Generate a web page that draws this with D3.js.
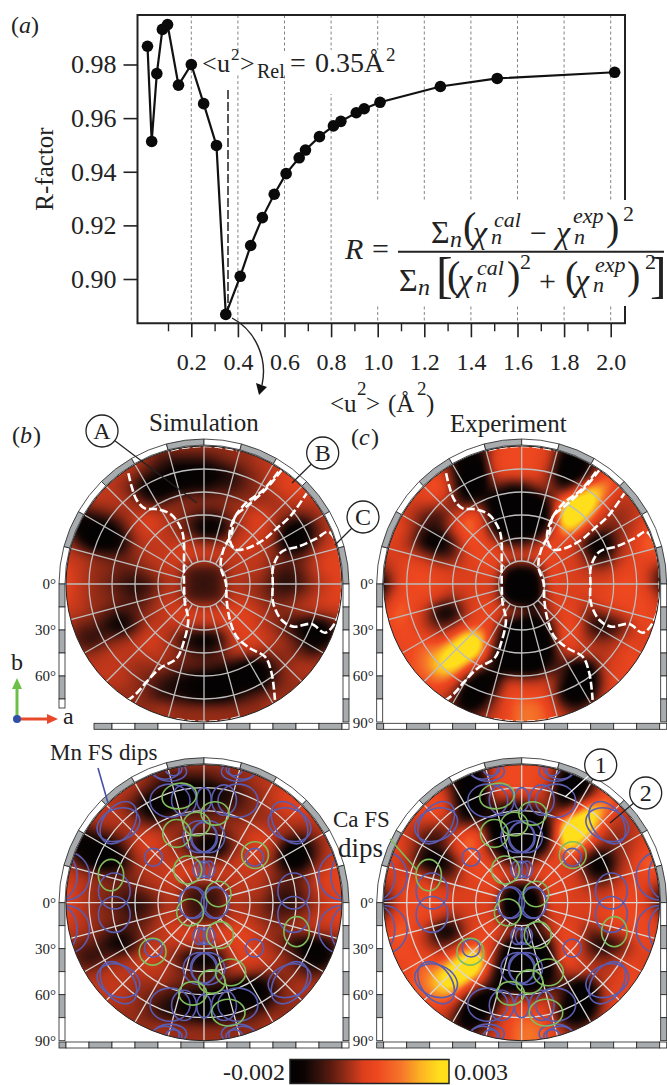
<!DOCTYPE html>
<html>
<head>
<meta charset="utf-8">
<script src="https://cdnjs.cloudflare.com/ajax/libs/d3/7.8.5/d3.min.js"></script>
<style>
body { margin: 0; background: #fff; }
svg { display: block; }
text { font-family: "Liberation Serif", serif; fill: #222; }
</style>
</head>
<body>
<script>
// R-factor curve
const u2Values = [0.012,0.03,0.052,0.076,0.098,0.145,0.2,0.253,0.308,0.348,0.41,0.455,0.505,0.556,0.607,0.663,0.69,0.75,0.81,0.842,0.908,0.942,1.01,1.269,1.513,2.017];
const rValues = [0.9868,0.9513,0.9766,0.9931,0.9949,0.9723,0.98,0.9654,0.9498,0.8868,0.901,0.9125,0.9229,0.9316,0.9393,0.9452,0.9481,0.9531,0.9571,0.9588,0.962,0.9635,0.9659,0.9718,0.9748,0.9771];
const yTicks = [0.90,0.92,0.94,0.96,0.98];
const xMajor = [0.2,0.4,0.6,0.8,1.0,1.2,1.4,1.6,1.8,2.0];
const xMinor = [0.1,0.3,0.5,0.7,0.9,1.1,1.3,1.5,1.7,1.9];

// Colour levels, rows top to bottom, 21 x 21 over the disc
const simLevels = [
[5,5,5,5,5,5,5,5,5,5,5,5,5,5,5,5,5,5,5,5,5],
[6,6,6,6,6,6,5,3,3,3,3,4,5,5,6,6,6,6,6,6,6],
[6,6,6,6,6,5,3,2,0,0,0,1,2,4,5,6,7,7,7,7,7],
[6,6,6,6,5,3,0,0,1,2,2,3,3,4,5,6,7,7,7,7,7],
[5,5,6,6,6,5,3,3,5,5,5,5,5,5,5,5,6,6,6,6,6],
[2,2,3,4,5,6,7,6,5,4,3,3,5,6,7,6,5,4,5,6,6],
[5,0,0,0,3,6,7,6,5,3,0,0,4,6,7,6,1,0,3,6,6],
[6,3,0,0,1,5,6,6,6,6,5,5,6,7,6,5,0,0,4,6,7],
[6,6,5,4,4,5,6,6,7,7,7,7,6,6,6,5,4,4,6,7,7],
[7,6,5,5,4,4,5,6,6,3,3,3,6,6,6,4,3,4,6,7,7],
[7,6,5,4,3,2,3,5,6,3,3,3,6,5,5,3,2,3,5,6,7],
[7,6,5,5,4,3,4,6,6,3,3,3,6,6,5,4,4,5,6,7,7],
[6,6,5,4,3,4,5,6,7,7,7,7,7,7,6,5,5,6,6,6,6],
[6,4,4,2,0,3,6,6,6,6,6,6,7,7,6,5,3,1,0,2,5],
[5,3,2,4,5,6,7,6,4,1,0,1,6,7,7,6,5,3,0,1,5],
[5,5,5,6,6,6,6,6,5,4,3,4,6,6,5,5,5,4,3,5,5],
[6,6,6,6,6,5,5,5,4,4,4,3,2,0,0,3,5,6,6,6,6],
[6,6,6,6,6,5,4,3,2,1,0,0,0,0,0,3,5,5,5,5,5],
[5,5,5,5,5,5,4,2,2,1,0,0,1,3,4,5,5,5,5,5,5],
[5,5,5,5,5,5,5,6,5,5,5,5,5,5,5,6,5,5,5,5,5],
[5,5,5,5,5,5,5,5,5,5,5,5,5,5,5,5,5,5,5,5,5]
];
const expLevels = [
[5,5,5,5,5,5,2,2,6,7,7,7,6,2,2,5,5,5,5,5,5],
[5,5,5,5,5,2,-1,0,7,7,7,7,6,0,-1,2,6,6,6,6,6],
[5,5,5,6,7,3,-1,-1,6,7,7,7,4,-1,-1,2,7,7,6,6,6],
[6,6,6,7,8,4,-1,-1,4,1,1,4,5,1,5,10,9,6,6,6,6],
[6,6,6,6,6,4,1,3,-1,-1,-1,-1,2,9,12,12,7,5,5,6,6],
[6,6,5,3,2,5,8,7,0,-1,-1,-1,1,12,12,9,5,4,5,6,6],
[6,7,5,2,2,6,8,7,1,-1,-1,-1,3,10,9,5,3,4,5,7,6],
[6,6,4,0,-1,2,7,7,6,2,2,4,7,6,5,0,-1,4,6,8,7],
[6,6,6,5,3,3,6,7,7,7,7,7,7,6,6,2,1,5,6,7,7],
[4,6,7,7,6,6,6,6,7,1,0,1,7,6,6,5,5,6,7,6,3],
[1,6,7,7,7,6,6,6,6,-1,-1,-1,7,6,6,6,6,7,7,6,2],
[4,7,7,7,6,4,6,6,6,0,-1,0,6,6,6,6,7,7,7,7,5],
[6,8,7,5,0,0,5,7,7,6,5,2,5,7,6,3,5,6,7,7,6],
[7,7,7,5,3,4,6,7,6,0,-1,-1,2,7,7,2,0,2,5,7,6],
[6,7,7,7,6,8,12,11,4,-1,-1,-1,0,8,6,4,4,5,6,6,5],
[6,6,7,8,9,12,12,10,2,-1,-1,-1,0,5,6,6,5,6,7,6,5],
[7,7,7,8,10,11,8,4,1,-1,-1,-1,2,3,-1,0,6,6,7,7,7],
[7,7,7,7,8,7,2,-1,0,6,5,5,6,2,-1,-1,5,7,6,6,6],
[6,6,6,6,6,4,-1,-1,3,7,7,7,6,0,-1,0,6,6,6,6,6],
[6,6,6,6,6,3,0,2,5,7,8,8,7,4,2,5,6,6,6,6,6],
[6,6,6,6,6,6,5,5,6,7,8,8,7,6,5,6,6,6,6,6,6]
];
const levelDomain = [0,1,2,3,4,5,6,7,8,9,10];
const levelColors = ["#040202","#0c0403","#2a0f0a","#561a10","#862815","#b5341a","#dc3f1c","#ee4820","#f5762a","#fcb222","#ffdf1c"];
const barStops = [0.03,0.09,0.16,0.25,0.33,0.4,0.46,0.55,0.7,0.82,0.94];

// White dashed contours, in percent of the disc radius, y upwards
const contourA = [[-54.8,80.2],[-52.4,70.5],[-48.8,60.9],[-42.8,54.8],[-33.1,54.1],[-23.4,50],[-16.2,39.1],[-14.5,29.5],[-14.5,17.4],[-14.5,0.5],[-13.8,-14],[-11.4,-26],[-15,-43],[-19.8,-53.9],[-31.9,-61],[-41.5,-70.8],[-48.8,-79.2],[-54.8,-84]];
const contourB = [[56.3,82.6],[45.4,69.3],[32.1,57.2],[22.5,48.8],[20,36.7],[14,24.6],[12.1,12.6],[15.9,0.5],[16.4,-11.6],[18.8,-26.1],[23.7,-38.2],[33.3,-46.6],[44.2,-52.7],[49,-64.7],[51.4,-84]];
const contourB2 = [[53.9,81.4],[43,68.1],[29.7,58],[21.3,46.4],[18.4,33.1],[22.5,25.1],[30.9,25.8],[43,31.9],[52.7,40.3],[62.3,48.8],[74.4,65.7]];
const contourC = [[100,10.1],[96.1,29.5],[90.1,37.9],[81.6,33.1],[69.6,27.5],[56.3,23.4],[50.2,12.6],[49.8,0.5],[50.2,-14],[56.3,-26.1],[64.7,-30.9],[78,-29],[87.7,-35.3],[96.1,-26.1],[99.8,-9.2],[100,10.1]];
const contourTop = [[-24,97],[-12,99.2],[0,100],[12,99.2],[24,97]];
const contourBottom = [[-20,-98],[-8,-99.6],[4,-99.9],[16,-98.7],[26,-96.5]];
const contours = [contourA,contourB,contourB2,contourC,contourTop,contourBottom];

// Fermi surface dips: x, y, rx, ry, rotation. Mn set is one quadrant, mirrored below
const mnDips = [[-8.9,0,9,11,0],[-8,0,10,11.5,0],[-3.6,24.2,4.1,6,0],[0,24.2,4.5,6,0],[-36.7,32.9,6.5,6.5,0],[-62,58,17,11,-55],[-62,56.5,16,11.5,-22],[-100,19.5,17,17.5,0],[-105,19.5,13,17.5,0],[-65,8.5,11.5,13,0],[-24.6,73.9,14.5,12,0],[-14.5,74.4,9,11,0],[0,74.9,5.3,8.5,0],[-3,47.8,12,11.6,0],[0,47.3,9.7,10.9,0],[-24.6,95,12,7,0],[-28,96,10,6.5,0],[-22,97,6,5,0]];
const caDips = [[-17.9,77.3,12.6,9.2,-10],[8,64.7,10.1,8.5,0],[-5.3,57,9.7,8.5,0],[-19.8,50.2,10.1,10.1,0],[-11.8,23.7,10.1,10.1,0],[37,34.5,9.7,9.7,0],[-67.4,20,9.2,11.4,0],[10.4,6.3,9.2,9.2,0],[-10.1,-7,9.7,9.7,0],[11.6,-23.4,9.7,9.7,0],[67.1,-21,9.2,10.9,0],[-37.2,-35.5,9.7,9.7,0],[19.3,-50.5,10.9,9.7,0],[5.6,-57.2,9.7,8.5,0],[-8.2,-65.7,10.1,8.5,0],[17.6,-79.7,12.1,9.7,0]];

const gammaLabels = ["0°","30°","60°","90°"];
const gridRadii = [23,46,69,92,115];
const azimuths = d3.range(0,360,15);

const svg = d3.select("body").append("svg").attr("width",667).attr("height",1085);
const defs = svg.append("defs");

function label(x,y,str,size,opts){
	opts = opts || {};
	return svg.append("text").attr("x",x).attr("y",y).attr("font-size",size)
		.attr("font-style",opts.italic ? "italic" : null)
		.attr("text-anchor",opts.anchor || null)
		.text(str);
}

//------------ panel (a) -----------
const x = d3.scaleLinear().domain([0,2]).range([144.7,610.7]);
const y = d3.scaleLinear().domain([0.9,0.98]).range([279,64.5]);

// dotted grid, cut by the white boxes below
svg.append("g").selectAll("line").data(xMajor).enter().append("line")
	.attr("x1",d => x(d)).attr("x2",d => x(d)).attr("y1",15).attr("y2",323)
	.attr("stroke","#666").attr("stroke-width",0.8).attr("stroke-dasharray","3,2.5");

// frame
svg.append("path").attr("d","M625,200V15H137.5V323.3H625V306").attr("fill","none").attr("stroke","#222").attr("stroke-width",2);

// white behind the annotation and the formula
svg.append("rect").attr("x",200).attr("y",52).attr("width",195).attr("height",22).attr("fill","#fff");
svg.append("rect").attr("x",296).attr("y",50).attr("width",100).attr("height",44).attr("fill","#fff");
svg.append("rect").attr("x",345).attr("y",200).attr("width",322).attr("height",106).attr("fill","#fff");

// axes
const axisBig = d3.axisBottom(x).tickValues(xMajor).tickSize(14).tickPadding(6).tickFormat(d3.format(".1f"));
const gx = svg.append("g").attr("transform","translate(0,323.3)").call(axisBig);
gx.select(".domain").remove();
gx.selectAll("line").attr("stroke","#222").attr("stroke-width",1.6);
gx.selectAll("text").attr("font-size",24).attr("font-family","Liberation Serif").attr("fill","#222").attr("y",47).attr("dy",0);
const gx2 = svg.append("g").attr("transform","translate(0,323.3)").call(d3.axisBottom(x).tickValues(xMinor).tickSize(8).tickFormat(""));
gx2.select(".domain").remove();
gx2.selectAll("line").attr("stroke","#222").attr("stroke-width",1.4);

const gy = svg.append("g").attr("transform","translate(137.5,0)")
	.call(d3.axisLeft(y).tickValues(yTicks).tickSize(14).tickPadding(7).tickFormat(d3.format(".2f")));
gy.select(".domain").remove();
gy.selectAll("line").attr("stroke","#222").attr("stroke-width",1.6);
gy.selectAll("text").attr("font-size",26).attr("font-family","Liberation Serif").attr("fill","#222");

svg.append("text").attr("transform","translate(53,169) rotate(-90)").attr("text-anchor","middle").attr("font-size",25).text("R-factor");

// dashed marker at the relative displacement
svg.append("line").attr("x1",228).attr("x2",228).attr("y1",90).attr("y2",318)
	.attr("stroke","#111").attr("stroke-width",1.4).attr("stroke-dasharray","9,3");

const pts = u2Values.map((d,i) => [d,rValues[i]]);
svg.append("path").attr("d",d3.line().x(d => x(d[0])).y(d => y(d[1]))(pts))
	.attr("fill","none").attr("stroke","#111").attr("stroke-width",2.2);
svg.append("g").selectAll("circle").data(pts).enter().append("circle")
	.attr("cx",d => x(d[0])).attr("cy",d => y(d[1])).attr("r",5.8).attr("fill","#0a0a0a");

label(202,72,"<",26); label(217,72,"u",26); label(231,60,"2",17); label(240,72,">",26);
label(257,78,"Rel",20);
label(290,72,"=",28); label(315,72,"0.35Å",28); label(386,61,"2",19);
label(11,33,"(",24); label(19,33,"a",24,{italic:true}); label(31,33,")",24);

label(330,412,"<u",25); label(357,395,"2",19); label(366,412,">",25);
label(388,412,"(Å",25); label(417,395,"2",19); label(426,412,")",25);

// arrow down to the maps
svg.append("path").attr("d","M232,318C255,330 268,358 262,385").attr("fill","none").attr("stroke","#222").attr("stroke-width",1.4);
svg.append("path").attr("d","M256,383L267,387L259,395Z").attr("fill","#111");

// formula
label(345,259,"R",30,{italic:true}); label(372,259,"=",30);
svg.append("line").attr("x1",398).attr("x2",664).attr("y1",251.7).attr("y2",251.7).attr("stroke","#222").attr("stroke-width",2);
const chi = (cx,cy,sup,supx,supy) => {
	label(cx,cy,"χ",32,{italic:true});
	label(supx,supy,sup,22,{italic:true});
	label(cx+18,cy+1,"n",22,{italic:true});
};
label(431,243,"Σ",32); label(450,247,"n",24,{italic:true});
label(463,240,"(",40); chi(473,243,"cal",494,227); label(530,243,"−",30); chi(556,243,"exp",573,223);
label(606,240,")",40); label(623,221,"2",22);
label(399,291,"Σ",32); label(418,295,"n",24,{italic:true});
label(436,292,"[",50); label(447,289,"(",40); chi(458,291,"cal",477,275); label(507,289,")",40); label(520,269,"2",22);
label(539,291,"+",30); label(565,289,"(",40); chi(575,291,"exp",595,272); label(627,289,")",40); label(645,269,"2",22);
label(650,292,"]",50);

//------------ maps -----------
const R = 138;
const levelColor = d3.scaleLinear().domain(levelDomain).range(levelColors).clamp(true);

// smooth the level grid to an image through spline interpolation
function heatImage(levels,shift){
	const size = 2*R, n = levels[0].length;
	const cols = d3.range(n).map(i => d3.interpolateBasis(levels.map(r => r[i])));
	const cv = document.createElement("canvas");
	cv.width = size; cv.height = size;
	const ctx = cv.getContext("2d");
	const img = ctx.createImageData(size,size);
	for(let py=0; py<size; py++){
		const rowFn = d3.interpolateBasis(cols.map(f => f((py+0.5)/size)));
		for(let px=0; px<size; px++){
			const c = d3.rgb(levelColor(rowFn((px+0.5)/size)+shift));
			const k = 4*(py*size+px);
			img.data[k]=c.r; img.data[k+1]=c.g; img.data[k+2]=c.b; img.data[k+3]=255;
		}
	}
	ctx.putImageData(img,0,0);
	return cv.toDataURL();
}
const simImage = heatImage(simLevels,-0.7), expImage = heatImage(expLevels,0);

// four-fold copy of the Mn quadrant, without stacking copies that land on themselves
const mirrored = Array.from(d3.group(
	mnDips.flatMap(d => [[1,1],[-1,1],[1,-1],[-1,-1]].map(s => [d[0]*s[0],d[1]*s[1],d[2],d[3],d[4]*s[0]*s[1]]))
	, d => d.join(",")).values(), v => v[0]);

const panels = [
	{id:"mapB", cx:204, cy:584, image:simImage, lines:true, labels:gammaLabels.slice(0,3), leftEnd:708, bottomStart:94},
	{id:"mapC", cx:521.7, cy:584, image:expImage, lines:true, labels:gammaLabels, leftEnd:723, bottomStart:376.7},
	{id:"mapD", cx:204, cy:902.7, image:simImage, lines:false, labels:gammaLabels, leftEnd:1042, bottomStart:59},
	{id:"mapE", cx:521.7, cy:902.7, image:expImage, lines:false, labels:gammaLabels, leftEnd:1042, bottomStart:376.7}
];
const arc = d3.arc().innerRadius(139).outerRadius(145);
const blockFill = i => i%2===0 ? "#fff" : "#a8acae";

panels.forEach(p => {
	const mx = d3.scaleLinear().domain([-100,100]).range([p.cx-R,p.cx+R]);
	const my = d3.scaleLinear().domain([100,-100]).range([p.cy-R,p.cy+R]);
	const mr = d3.scaleLinear().domain([0,100]).range([0,R]);

	defs.append("clipPath").attr("id",p.id).append("circle").attr("cx",p.cx).attr("cy",p.cy).attr("r",R);
	const g = svg.append("g").attr("clip-path","url(#"+p.id+")");
	g.append("image").attr("x",p.cx-R).attr("y",p.cy-R).attr("width",2*R).attr("height",2*R).attr("href",p.image);

	// polar net
	const gridCol = p.lines ? "#bdbdbd" : "#d8d8d8";
	g.selectAll("circle.net").data(gridRadii).enter().append("circle").attr("class","net")
		.attr("cx",p.cx).attr("cy",p.cy).attr("r",d => d).attr("fill","none").attr("stroke",gridCol).attr("stroke-width",1.3);
	g.selectAll("line.net").data(azimuths).enter().append("line").attr("class","net")
		.attr("x1",d => p.cx+23*Math.cos(d*Math.PI/180)).attr("y1",d => p.cy+23*Math.sin(d*Math.PI/180))
		.attr("x2",d => p.cx+R*Math.cos(d*Math.PI/180)).attr("y2",d => p.cy+R*Math.sin(d*Math.PI/180))
		.attr("stroke",gridCol).attr("stroke-width",1.3);

	if(p.lines){
		const line = d3.line().x(d => mx(d[0])).y(d => my(d[1])).curve(d3.curveCatmullRom);
		g.selectAll("path.contour").data(contours).enter().append("path").attr("class","contour")
			.attr("d",line).attr("fill","none").attr("stroke","#fff").attr("stroke-width",2.6).attr("stroke-dasharray","8,3");
	} else {
		const ell = (sel,data,col) => sel.append("g").selectAll("ellipse").data(data).enter().append("ellipse")
			.attr("rx",d => mr(d[2])).attr("ry",d => mr(d[3]))
			.attr("transform",d => "translate("+mx(d[0])+","+my(d[1])+") rotate("+d[4]+")")
			.attr("fill","none").attr("stroke",col).attr("stroke-width",1.6);
		ell(g,mirrored,"#5a5cb0");
		ell(g,caDips,"#7fbd5c");
	}
	svg.append("circle").attr("cx",p.cx).attr("cy",p.cy).attr("r",R).attr("fill","none").attr("stroke","#222").attr("stroke-width",1);

	// scale blocks: arc over the top, strips down the sides, bar at the bottom
	const top = svg.append("g").attr("transform","translate("+p.cx+","+p.cy+")");
	top.selectAll("path").data(d3.range(-6,6)).enter().append("path")
		.attr("d",d => arc({startAngle:d*Math.PI/12,endAngle:(d+1)*Math.PI/12}))
		.attr("fill",d => blockFill(Math.abs(d))).attr("stroke","#222").attr("stroke-width",0.8);

	const strip = (x0,parity,end) => svg.append("g").selectAll("rect").data(d3.range(6).filter(d => p.cy+d*23 < end)).enter().append("rect")
		.attr("x",x0).attr("width",6).attr("y",d => p.cy+d*23)
		.attr("height",d => Math.min(23,end-(p.cy+d*23)))
		.attr("fill",d => blockFill(d+parity)).attr("stroke","#222").attr("stroke-width",0.8);
	strip(p.cx-145,1,p.leftEnd);
	strip(p.cx+139,0,p.cy+139);

	const right = p.cx+145;
	svg.append("g").selectAll("rect").data(d3.range(-7,7).filter(d => p.cx+(d+1)*23 > p.bottomStart)).enter().append("rect")
		.attr("x",d => Math.max(p.cx+d*23,p.bottomStart))
		.attr("width",d => Math.min(p.cx+(d+1)*23,right)-Math.max(p.cx+d*23,p.bottomStart))
		.attr("y",p.cy+139.3).attr("height",6)
		.attr("fill",d => blockFill(Math.abs(d))).attr("stroke","#222").attr("stroke-width",0.8);

	p.labels.forEach((t,i) => label(p.cx-148,p.cy+i*46.2+5,t,15,{anchor:"end"}));
});

// titles and panel tags
label(149,431,"Simulation",25);
label(450,432,"Experiment",25);
label(12,443,"(",24); label(20,443,"b",24,{italic:true}); label(33,443,")",24);
label(351,445,"(",24); label(359,445,"c",24,{italic:true}); label(371,445,")",24);

// callouts
const callouts = [
	{t:"A",x:102,y:431,x2:197,y2:503,col:"#222"},
	{t:"B",x:322.7,y:453,x2:292,y2:483,col:"#222"},
	{t:"C",x:363,y:517,x2:335,y2:545,col:"#222"},
	{t:"1",x:600.7,y:765,x2:565,y2:797,col:"#fff"},
	{t:"2",x:645.7,y:793,x2:610,y2:823,col:"#222"}
];
callouts.forEach(c => {
	svg.append("line").attr("x1",c.x).attr("y1",c.y).attr("x2",c.x2).attr("y2",c.y2).attr("stroke",c.col).attr("stroke-width",1.2);
	svg.append("circle").attr("cx",c.x).attr("cy",c.y).attr("r",16).attr("fill","#fff").attr("stroke","#222").attr("stroke-width",1.3);
	label(c.x,c.y+8,c.t,24,{anchor:"middle"});
});

// crystal axes
function arrowLine(x1,y1,x2,y2,col){
	const a = Math.atan2(y2-y1,x2-x1), s = 11;
	svg.append("line").attr("x1",x1).attr("y1",y1).attr("x2",x2-s*Math.cos(a)).attr("y2",y2-s*Math.sin(a)).attr("stroke",col).attr("stroke-width",3);
	svg.append("path").attr("d",d3.line()([[x2,y2],[x2-s*Math.cos(a)-5*Math.sin(a),y2-s*Math.sin(a)+5*Math.cos(a)],[x2-s*Math.cos(a)+5*Math.sin(a),y2-s*Math.sin(a)-5*Math.cos(a)]])+"Z").attr("fill",col);
}
arrowLine(17,719,17,678,"#6cc04a");
arrowLine(17,719,58,719,"#e8492a");
svg.append("circle").attr("cx",17).attr("cy",719).attr("r",4).attr("fill","#2f4fa8");
label(11,670,"b",24); label(63,724,"a",24);

// dip labels
label(50,760,"Mn FS dips",23);
svg.append("line").attr("x1",98).attr("y1",768).attr("x2",108).attr("y2",803).attr("stroke","#4a50a8").attr("stroke-width",1.6);
label(333,827,"Ca FS",23);
label(338,857,"dips",27);
svg.append("line").attr("x1",390).attr("y1",839).attr("x2",417).attr("y2",870).attr("stroke","#7fbd5c").attr("stroke-width",1.6);

// colour bar
const grad = defs.append("linearGradient").attr("id","bar");
grad.selectAll("stop").data(barStops).enter().append("stop")
	.attr("offset",d => d).attr("stop-color",(d,i) => levelColors[i]);
svg.append("rect").attr("x",290).attr("y",1059.5).attr("width",159).attr("height",24)
	.attr("fill","url(#bar)").attr("stroke","#222").attr("stroke-width",1.5);
label(285,1080,"-0.002",24,{anchor:"end"});
label(454,1080,"0.003",24);
</script>
</body>
</html>
